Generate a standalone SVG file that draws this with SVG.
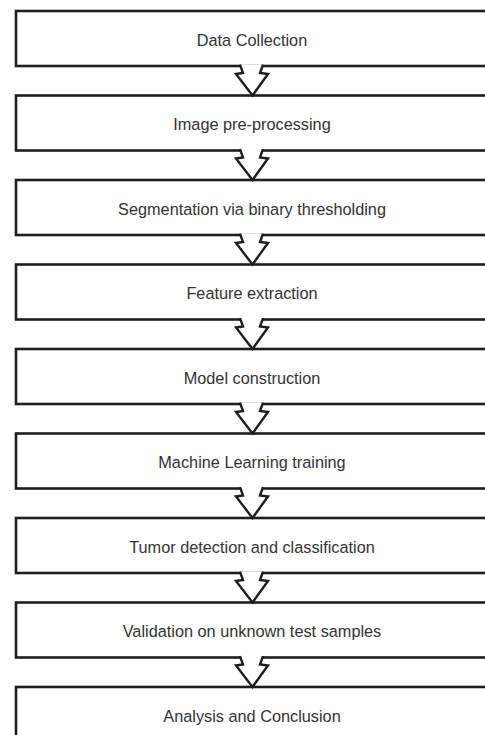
<svg xmlns="http://www.w3.org/2000/svg" width="485" height="735" viewBox="0 0 485 735">
<style>
.box{fill:#fff;stroke:#1e1e1e;stroke-width:2.6}
.arr{fill:#fff;stroke:#1e1e1e;stroke-width:2.4;stroke-linejoin:miter}
.lbl{font-family:"Liberation Sans",Arial,sans-serif;font-size:16.3px;fill:#333;text-anchor:middle;dominant-baseline:central}
</style>
<rect width="485" height="735" fill="#fff"/>
<g id="n1"><rect class="box" x="16" y="11" width="472" height="55"/><text class="lbl" x="252" y="39.5">Data Collection</text></g>
<g id="n2"><rect class="box" x="16" y="95.5" width="472" height="55"/><text class="lbl" x="252" y="124">Image pre-processing</text></g>
<g id="n3"><rect class="box" x="16" y="180" width="472" height="55"/><text class="lbl" x="252" y="208.5">Segmentation via binary thresholding</text></g>
<g id="n4"><rect class="box" x="16" y="264.5" width="472" height="55"/><text class="lbl" x="252" y="293">Feature extraction</text></g>
<g id="n5"><rect class="box" x="16" y="349" width="472" height="55"/><text class="lbl" x="252" y="377.5">Model construction</text></g>
<g id="n6"><rect class="box" x="16" y="433.5" width="472" height="55"/><text class="lbl" x="252" y="462">Machine Learning training</text></g>
<g id="n7"><rect class="box" x="16" y="518" width="472" height="55"/><text class="lbl" x="252" y="547">Tumor detection and classification</text></g>
<g id="n8"><rect class="box" x="16" y="602.5" width="472" height="55"/><text class="lbl" x="252" y="631">Validation on unknown test samples</text></g>
<g id="n9"><rect class="box" x="16" y="687" width="472" height="55"/><text class="lbl" x="252" y="715.5">Analysis and Conclusion</text></g>
<g id="connectors">
<path class="arr" transform="translate(0,66)" d="M240,-1.4 L243,7 L236,8 L252.5,29.5 L268,8 L260,7 L263,-1.4"/>
<path class="arr" transform="translate(0,150.5)" d="M240,-1.4 L243,7 L236,8 L252.5,29.5 L268,8 L260,7 L263,-1.4"/>
<path class="arr" transform="translate(0,235)" d="M240,-1.4 L243,7 L236,8 L252.5,29.5 L268,8 L260,7 L263,-1.4"/>
<path class="arr" transform="translate(0,319.5)" d="M240,-1.4 L243,7 L236,8 L252.5,29.5 L268,8 L260,7 L263,-1.4"/>
<path class="arr" transform="translate(0,404)" d="M240,-1.4 L243,7 L236,8 L252.5,29.5 L268,8 L260,7 L263,-1.4"/>
<path class="arr" transform="translate(0,488.5)" d="M240,-1.4 L243,7 L236,8 L252.5,29.5 L268,8 L260,7 L263,-1.4"/>
<path class="arr" transform="translate(0,573)" d="M240,-1.4 L243,7 L236,8 L252.5,29.5 L268,8 L260,7 L263,-1.4"/>
<path class="arr" transform="translate(0,657.5)" d="M240,-1.4 L243,7 L236,8 L252.5,29.5 L268,8 L260,7 L263,-1.4"/>
</g>
</svg>
